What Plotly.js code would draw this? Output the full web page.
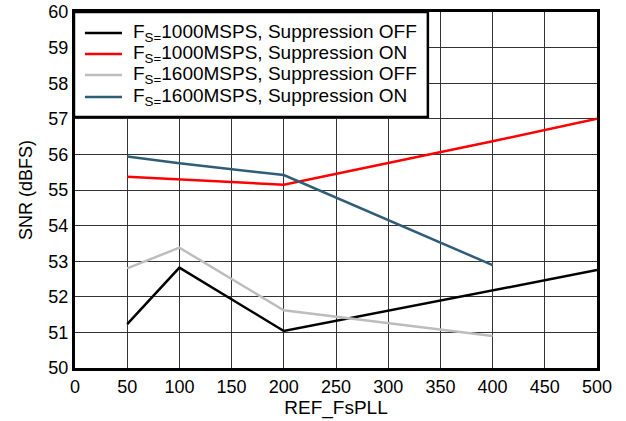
<!DOCTYPE html>
<html>
<head>
<meta charset="utf-8">
<script src="https://cdn.plot.ly/plotly-3.0.1.min.js"></script>
<style>html,body{margin:0;padding:0;background:#fff;}#chart{width:626px;height:421px;}</style>
</head>
<body>
<div id="chart"></div>
<script>
const refFsPLL = [50, 100, 200, 400, 500];
const refFsPLL1600 = [50, 100, 200, 400];
const snr1000Off = [51.23, 52.82, 51.04, 52.18, 52.75];
const snr1000On = [55.37, 55.30, 55.15, 56.37, 57.0];
const snr1600Off = [52.8, 53.38, 51.62, 50.9];
const snr1600On = [55.94, 55.75, 55.42, 52.89];
const seriesNames = [
  "F<sub>S=</sub>1000MSPS, Suppression OFF",
  "F<sub>S=</sub>1000MSPS, Suppression ON",
  "F<sub>S=</sub>1600MSPS, Suppression OFF",
  "F<sub>S=</sub>1600MSPS, Suppression ON"
];
const seriesColors = ["#000000", "#ff0000", "#bdbdbd", "#2f5d78"];
const xTicks = [0, 50, 100, 150, 200, 250, 300, 350, 400, 450, 500];
const yTicks = [50, 51, 52, 53, 54, 55, 56, 57, 58, 59, 60];

const traces = [
  {x: refFsPLL, y: snr1000Off, name: seriesNames[0], mode: "lines", line: {color: seriesColors[0], width: 2.5}},
  {x: refFsPLL, y: snr1000On, name: seriesNames[1], mode: "lines", line: {color: seriesColors[1], width: 2.5}},
  {x: refFsPLL1600, y: snr1600Off, name: seriesNames[2], mode: "lines", line: {color: seriesColors[2], width: 2.5}},
  {x: refFsPLL1600, y: snr1600On, name: seriesNames[3], mode: "lines", line: {color: seriesColors[3], width: 2.5}}
];

// custom legend (paper coordinates)
const legRowsY = [0.941, 0.882, 0.823, 0.761];
const shapes = [{type: "rect", xref: "paper", yref: "paper", x0: -0.002, x1: 0.676, y0: 0.705, y1: 1.0,
                 fillcolor: "#fff", line: {color: "#000", width: 2.5}, layer: "above"}];
const annotations = [];
seriesNames.forEach((n, i) => {
  shapes.push({type: "line", xref: "paper", yref: "paper", x0: 0.019, x1: 0.090, y0: legRowsY[i], y1: legRowsY[i],
               line: {color: seriesColors[i], width: 2.5}, layer: "above"});
  annotations.push({xref: "paper", yref: "paper", x: 0.107, y: legRowsY[i], xanchor: "left", yanchor: "middle",
                    text: n, showarrow: false, font: {size: 19, color: "#000"}});
});

const layout = {
  width: 626, height: 421,
  margin: {l: 75, r: 29, t: 12, b: 53},
  paper_bgcolor: "#fff", plot_bgcolor: "#fff",
  font: {family: "Liberation Sans, Arial, sans-serif", size: 18, color: "#000"},
  showlegend: false,
  shapes: shapes,
  annotations: annotations,
  xaxis: {range: [0, 500], tickvals: xTicks, ticktext: xTicks.map(String), showgrid: true, gridcolor: "#333", gridwidth: 1,
          zeroline: false, showline: true, linecolor: "#000", linewidth: 3, mirror: true, ticks: "",
          title: {text: "REF_FsPLL", font: {size: 19}, standoff: 2}, tickfont: {size: 18}},
  yaxis: {range: [50, 60], tickvals: yTicks, ticktext: yTicks.map(String), showgrid: true, gridcolor: "#333", gridwidth: 1,
          zeroline: false, showline: true, linecolor: "#000", linewidth: 3, mirror: true, ticks: "",
          title: {text: "SNR (dBFS)", font: {size: 18}, standoff: 12}, tickfont: {size: 18}}
};
Plotly.newPlot("chart", traces, layout, {displayModeBar: false, staticPlot: true});
</script>
</body>
</html>
